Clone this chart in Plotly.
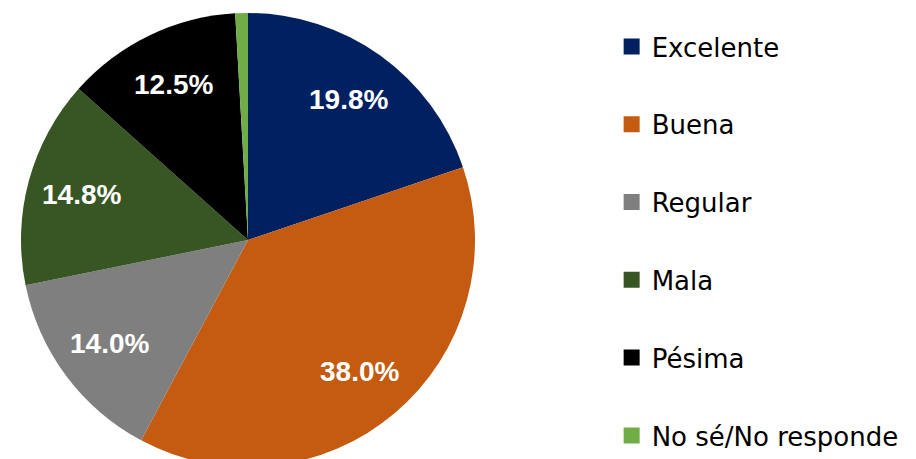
import math
import plotly.graph_objects as go

categories = ["Excelente", "Buena", "Regular", "Mala", "Pésima", "No sé/No responde"]
values = [19.8, 38.0, 14.0, 14.8, 12.5, 0.9]
colors = ["#002060", "#C55A11", "#7F7F7F", "#375623", "#000000", "#70AD47"]
label_text = [f"{v:.1f}%" if v >= 5 else "" for v in values]

FONT = "DejaVu Sans"
LABEL_FONT = "Liberation Sans"
W, H = 916, 459

# pie geometry (pixels in figure)
dom_x = [13, 467]
dom_y_top = 5
R = (dom_x[1] - dom_x[0]) / 2
CX = (dom_x[0] + dom_x[1]) / 2
CY = dom_y_top + R  # from top
LABEL_R = 0.76

fig = go.Figure()
fig.add_trace(go.Pie(
    labels=categories,
    values=values,
    textinfo="none",
    marker=dict(colors=colors, line=dict(width=0)),
    sort=False,
    direction="clockwise",
    rotation=0,
    showlegend=False,
    hoverinfo="label+percent",
    domain=dict(x=[dom_x[0] / W, dom_x[1] / W], y=[0.0, 1 - dom_y_top / H]),
))

# data labels placed at the middle angle of each slice
total = sum(values)
cum = 0.0
for v, t in zip(values, label_text):
    mid = (cum + v / 2) / total * 2 * math.pi
    cum += v
    if not t:
        continue
    px = CX + LABEL_R * R * math.sin(mid)
    py = CY - LABEL_R * R * math.cos(mid)
    fig.add_annotation(
        x=px / W, y=1 - py / H, xref="paper", yref="paper",
        text=t, showarrow=False, xanchor="center", yanchor="middle",
        font=dict(family=LABEL_FONT, size=28, color="white", weight="bold"),
    )

for i, (name, col) in enumerate(zip(categories, colors)):
    fig.add_trace(go.Scatter(
        x=[None], y=[None], mode="markers", name=name,
        marker=dict(symbol="square", size=16, color=col),
        legendgroup=f"g{i}", showlegend=True,
    ))

fig.update_layout(
    width=W, height=H,
    margin=dict(l=0, r=0, t=0, b=0),
    paper_bgcolor="white", plot_bgcolor="white",
    xaxis=dict(visible=False), yaxis=dict(visible=False),
    legend=dict(
        x=0.659, y=1 - 15 / H, xanchor="left", yanchor="top",
        font=dict(family=FONT, size=26, color="#000000"),
        tracegroupgap=41, itemsizing="trace",
        bgcolor="rgba(0,0,0,0)",
    ),
)

fig.write_html("out.html")
